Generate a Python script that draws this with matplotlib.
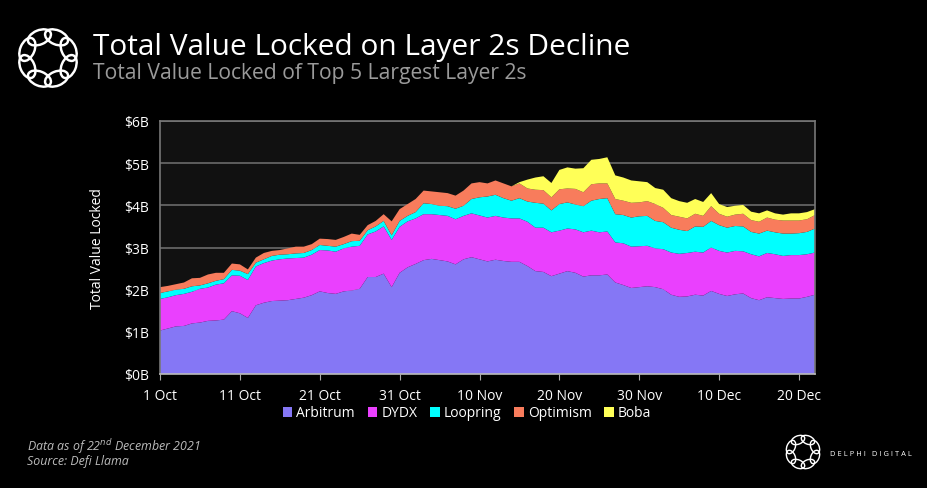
import numpy as np
import pandas as pd
import matplotlib
matplotlib.use("Agg")
import matplotlib.pyplot as plt
from matplotlib.patches import Ellipse, Patch

# TVL in $B, daily 1 Oct - 22 Dec 2021
dates = pd.date_range("2021-10-01", "2021-12-22", freq="D")

arbitrum = [1.03, 1.08, 1.13, 1.14, 1.20, 1.22, 1.26, 1.27, 1.29, 1.49, 1.44, 1.33, 1.63, 1.69, 1.73, 1.74, 1.75, 1.78, 1.81, 1.87, 1.96,
            1.92, 1.90, 1.96, 1.98, 2.02, 2.30, 2.30, 2.38, 2.06, 2.40, 2.53, 2.61, 2.70, 2.73, 2.70, 2.67, 2.60, 2.72, 2.77, 2.72, 2.67,
            2.71, 2.68, 2.66, 2.66, 2.56, 2.44, 2.42, 2.32, 2.38, 2.44, 2.40, 2.31, 2.34, 2.34, 2.36, 2.17, 2.11, 2.04, 2.06, 2.08,
            2.06, 2.01, 1.88, 1.83, 1.84, 1.88, 1.86, 1.97, 1.90, 1.85, 1.89, 1.91, 1.80, 1.75, 1.82, 1.80, 1.78, 1.79, 1.79, 1.83, 1.88]
dydx = [0.75, 0.74, 0.74, 0.76, 0.75, 0.80, 0.79, 0.85, 0.86, 0.85, 0.89, 0.90, 0.92, 0.94, 0.96, 0.98, 0.99, 0.97, 0.95, 0.96, 0.98,
        1.01, 1.00, 1.02, 1.04, 1.02, 1.01, 1.08, 1.12, 1.12, 1.09, 1.09, 1.08, 1.09, 1.06, 1.07, 1.08, 1.07, 1.03, 1.04, 1.04, 1.04,
        1.04, 1.03, 1.03, 1.03, 1.05, 1.03, 1.05, 1.04, 1.02, 1.01, 1.03, 1.05, 1.06, 1.02, 1.02, 0.95, 0.99, 0.98, 0.97, 0.96,
        0.92, 0.95, 1.00, 1.02, 1.03, 1.02, 1.02, 1.03, 1.02, 1.03, 1.03, 1.00, 1.04, 1.04, 1.05, 1.04, 1.02, 1.03, 1.03, 1.01, 1.00]
loopring = [0.14, 0.14, 0.13, 0.12, 0.13, 0.08, 0.10, 0.09, 0.10, 0.13, 0.12, 0.14, 0.09, 0.09, 0.11, 0.11, 0.10, 0.11, 0.11, 0.11, 0.12,
            0.11, 0.12, 0.10, 0.13, 0.12, 0.10, 0.12, 0.13, 0.11, 0.14, 0.13, 0.15, 0.26, 0.24, 0.22, 0.23, 0.25, 0.24, 0.34, 0.43, 0.50,
            0.50, 0.46, 0.42, 0.48, 0.48, 0.59, 0.57, 0.52, 0.63, 0.62, 0.59, 0.62, 0.71, 0.79, 0.79, 0.67, 0.67, 0.69, 0.71, 0.71,
            0.65, 0.64, 0.59, 0.57, 0.52, 0.60, 0.61, 0.63, 0.61, 0.59, 0.59, 0.59, 0.53, 0.54, 0.53, 0.52, 0.53, 0.51, 0.52, 0.53, 0.57]
optimism = [0.14, 0.13, 0.13, 0.15, 0.19, 0.18, 0.21, 0.19, 0.15, 0.15, 0.15, 0.11, 0.12, 0.15, 0.12, 0.11, 0.14, 0.16, 0.15, 0.14, 0.15,
            0.16, 0.16, 0.17, 0.18, 0.14, 0.12, 0.13, 0.16, 0.33, 0.28, 0.28, 0.31, 0.30, 0.30, 0.32, 0.31, 0.31, 0.36, 0.37, 0.36, 0.31,
            0.34, 0.35, 0.34, 0.35, 0.31, 0.31, 0.32, 0.31, 0.35, 0.33, 0.37, 0.33, 0.39, 0.37, 0.35, 0.36, 0.34, 0.35, 0.33, 0.35,
            0.40, 0.34, 0.30, 0.31, 0.30, 0.30, 0.26, 0.35, 0.27, 0.26, 0.27, 0.30, 0.28, 0.28, 0.31, 0.30, 0.31, 0.31, 0.30, 0.30, 0.32]
boba = [0.0] * 45 + [0.03, 0.21, 0.29, 0.33, 0.34, 0.46, 0.50, 0.48, 0.57, 0.58, 0.58, 0.62, 0.56, 0.55, 0.53, 0.50, 0.45,
                     0.38, 0.43, 0.40, 0.37, 0.37, 0.35, 0.33, 0.31, 0.23, 0.23, 0.21, 0.21, 0.20, 0.20, 0.17, 0.15, 0.14, 0.17, 0.17, 0.17, 0.14]

names = ["Arbitrum", "DYDX", "Loopring", "Optimism", "Boba"]
colors = ["#8577f5", "#ea40fe", "#00ffff", "#f87c5c", "#ffff57"]

yticks = [0, 1, 2, 3, 4, 5, 6]
tick_days = ["2021-10-01", "2021-10-11", "2021-10-21", "2021-10-31", "2021-11-10",
             "2021-11-20", "2021-11-30", "2021-12-10", "2021-12-20"]
tick_labels = ["1 Oct", "11 Oct", "21 Oct", "31 Oct", "10 Nov", "20 Nov", "30 Nov", "10 Dec", "20 Dec"]

plt.rcParams['font.family'] = ['Open Sans', 'DejaVu Sans']

fig = plt.figure(figsize=(9.27, 4.89), dpi=100, facecolor="black")
ax = fig.add_axes([160/927, 1-375/489, 655/927, 253/489])
ax.set_facecolor("#111111")

ax.stackplot(dates, arbitrum, dydx, loopring, optimism, boba, colors=colors, linewidth=0, zorder=2)

ax.set_ylim(0, 6)
ax.set_xlim(dates[0], dates[-1])
ax.set_yticks(yticks)
ax.set_yticklabels([f"${v}B" for v in yticks])
ax.set_xticks(pd.to_datetime(tick_days))
ax.set_xticklabels(tick_labels)
ax.grid(axis="y", color="#6a6a6a", linewidth=1.2, zorder=1)
ax.tick_params(axis="y", length=0, pad=8, colors="white", labelsize=10)
ax.tick_params(axis="x", length=4, color="#aaaaaa", pad=6, colors="white", labelsize=10)
for s in ax.spines.values():
    s.set_color("#777777")
    s.set_linewidth(1.2)
ax.spines["bottom"].set_color("#bbbbbb")
ax.set_ylabel("Total Value Locked", color="white", fontsize=10, labelpad=14)

handles = [Patch(facecolor=c, label=n) for c, n in zip(colors, names)]
leg = fig.legend(handles=handles, loc="center", bbox_to_anchor=(467/927, 1-414/489), ncol=5,
                 frameon=False, fontsize=10, handlelength=0.7, handleheight=0.7,
                 handletextpad=0.3, columnspacing=0.9)
for t in leg.get_texts():
    t.set_color("white")

fig.text(93/927, 1-47/489, "Total Value Locked on Layer 2s Decline", color="white",
         fontsize=21.5, va="center", ha="left")
fig.text(93/927, 1-73/489, "Total Value Locked of Top 5 Largest Layer 2s", color="#9a9a9a",
         fontsize=15.2, va="center", ha="left")

fig.text(27/927, 1-447/489, "Data as of 22$^{nd}$ December 2021", color="#bbbbbb",
         fontsize=8.9, style="italic", va="center", ha="left")
fig.text(27/927, 1-462/489, "Source: Defi Llama", color="#bbbbbb",
         fontsize=8.9, style="italic", va="center", ha="left")
fig.text(830/927, 1-455/489, "D E L P H I   D I G I T A L", color="white",
         fontsize=5.4, va="center", ha="left")


def draw_logo(cx, cy, r):
    lax = fig.add_axes([(cx - r)/927, 1-(cy + r)/489, 2*r/927, 2*r/489])
    lax.set_xlim(-1, 1)
    lax.set_ylim(-1, 1)
    lax.axis("off")
    lax.patch.set_alpha(0)
    for k in range(8):
        a = k * np.pi / 4 + np.pi / 8
        lax.add_patch(Ellipse((0.72*np.cos(a), 0.72*np.sin(a)), 0.78, 0.46,
                              angle=np.degrees(a) + 90, fill=False,
                              edgecolor="white", linewidth=1.7 * r / 30))


draw_logo(48, 59, 31)
draw_logo(803, 453, 18)

fig.savefig("out.png", dpi=100, facecolor="black")
